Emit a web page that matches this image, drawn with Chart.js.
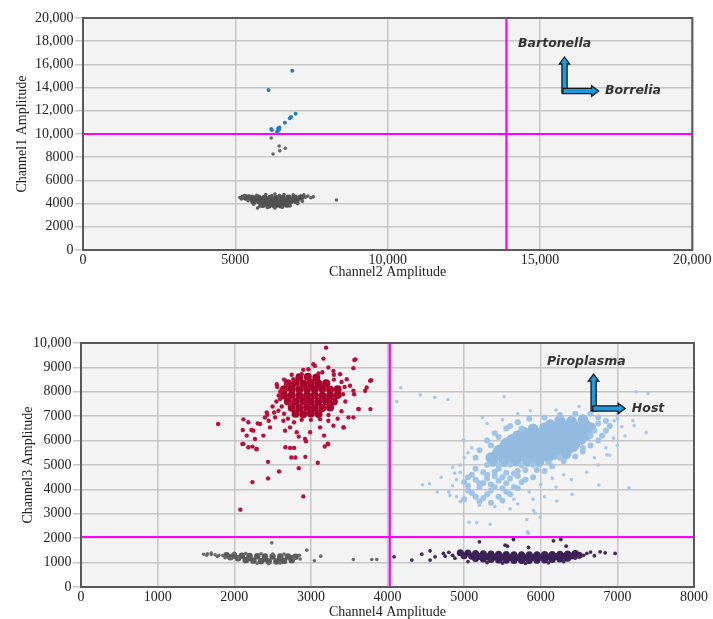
<!DOCTYPE html>
<html>
<head>
<meta charset="utf-8">
<script src="https://cdn.jsdelivr.net/npm/chart.js@4.4.1/dist/chart.umd.min.js"></script>
<style>
  html, body { margin: 0; padding: 0; background: #fff; overflow: hidden; }
  #top { position: absolute; left: 0; top: 0; }
  #bottom { position: absolute; left: 0; top: 300px; }
</style>
</head>
<body>
<canvas id="top" width="713" height="300"></canvas>
<canvas id="bottom" width="713" height="330"></canvas>
<script>
// --- tick values ---
const topXTicks = [0, 5000, 10000, 15000, 20000];
const topYTicks = [0, 2000, 4000, 6000, 8000, 10000, 12000, 14000, 16000, 18000, 20000];
const botXTicks = [0, 1000, 2000, 3000, 4000, 5000, 6000, 7000, 8000];
const botYTicks = [0, 1000, 2000, 3000, 4000, 5000, 6000, 7000, 8000, 9000, 10000];

// --- threshold lines ---
const topCutX = 13900, topCutY = 10000;
const botCutX = 4030, botCutY = 2050;

// --- top plot (Channel2 x, Channel1 y) ---
const bartonellaPos = [[6870,15450],[6090,13800],[6980,11750],[6830,11470],[6790,11350],[6630,10970],
  [6180,10430],[6410,10490],[6440,10400],[6400,10280],[6370,10200],[6450,10550],[6200,10350]];
const topStray = [[6180,9650],[6240,8280],[6440,8970],[6460,8560],[6640,8770],[8320,4310]];
const topNegCore = [[5350,4520],[5550,4480],[5750,4500],[5950,4460],[6150,4480],[6350,4450],[6550,4480],
  [6750,4500],[6950,4490],[7150,4520],[5600,4200],[5800,4180],[6000,4150],[6200,4120],[6400,4130],
  [6600,4160],[6800,4200],[7000,4230],[5900,3900],[6100,3850],[6300,3830],[6500,3860],[6700,3920]];
const topNegEdge = [[5150,4520],[5230,4620],[5200,4400],[5300,4700],[5450,4680],[7300,4550],[7380,4650],
  [7480,4500],[7250,4750],[7560,4580],[6000,4780],[6300,4830],[6600,4780],[6900,4760],[5700,4720],
  [5600,3950],[5730,3620],[5800,3780],[6050,3660],[6300,3620],[6550,3680],[6800,3800],[7050,4000],
  [5420,4250],[7200,4200],[6200,4700],[6450,4700]];

// --- bottom plot (Channel4 x, Channel3 y) ---
const piroCore = [[2850,8600],[2960,8620],[3070,8580],
  [2700,8350],[2800,8370],[2900,8340],[3000,8360],[3100,8330],[3200,8350],
  [2650,8100],[2750,8120],[2850,8090],[2950,8110],[3050,8100],[3150,8120],[3250,8090],[3350,8100],
  [2650,7850],[2750,7860],[2850,7840],[2950,7850],[3050,7860],[3150,7840],[3250,7850],[3350,7870],
  [2700,7600],[2800,7590],[2900,7610],[3000,7600],[3100,7590],[3200,7610],[3300,7600],
  [2750,7350],[2850,7340],[2950,7360],[3050,7350],[3150,7340],[3250,7360],
  [2800,7100],[2900,7080],[3000,7110],[3100,7090]];
const piroEdge = [[2555,8313],[2620,8109],[2685,8313],[2770,8517],[2880,8721],[2967,8925],[3054,9061],
  [3228,8993],[3294,8857],[3381,8721],[3468,8517],[3511,8245],[3555,8041],[3620,7293],[3555,6953],
  [3490,6953],[3425,6544],[3294,6612],[3228,6816],[3120,6544],[2990,6340],[2924,6068],[2815,6340],
  [2728,6544],[2663,6408],[2641,6816],[2533,6953],[2576,7225],[2424,7157],[2337,6680],[2250,6408],
  [2163,6204],[2119,5864],[2184,5728],[2293,5660],[2271,6068],[2380,6204],[2467,6544],[2598,7701],
  [2728,7497],[2500,7400],[2550,7600],[2600,8000],[3400,8400],[3450,7600],[3400,7200],[3350,6900],
  [2650,7100],[3300,8700],[2750,8700],[2900,8900],[3150,8800],
  [2580,7850],[2560,8200],[2620,7400],[2700,6900],[2780,6750],[2880,6850],[3000,6850],[3120,6880],
  [3230,7050],[3420,7900],[3440,8200],[3300,8500],[3100,8750],[2650,8500],[2520,7150],[2400,6950],
  [1790,6680],[2080,3170],[2237,4300],[2441,5130],[2441,4450],[2585,4735],[2842,4870],[2902,3714],
  [2928,5333],[3090,5090],[2745,5306],[2798,5306],[3198,9810],[3164,9360],[3033,9130],[3568,9306],
  [3786,8476],[3777,7290],[3625,7290],[3581,9330],[3555,8970],[3564,7900],[3429,6540],[3220,5870],
  [3181,5760],[2119,6870],[2184,6750],[2111,6436],[2224,6436],[2307,6707],[2432,7061],[2450,6816],
  [2106,5864],[2237,5755],[2289,5646],[2668,5728],[2729,5700],[2781,5700],[2842,6163],[2937,5973],
  [3172,6204],[3225,5850],[3773,8449],[3729,8177],[3708,8041]];
const dualCore = [[6250,6820],[6400,6780],[6550,6850],
  [6125,6650],[6275,6660],[6425,6640],[6575,6670],
  [5900,6480],[6050,6520],[6200,6490],[6350,6510],[6500,6470],[6650,6530],
  [5775,6350],[5925,6340],[6075,6360],[6225,6350],[6375,6330],[6525,6360],
  [5700,6200],[5850,6180],[6000,6220],[6150,6190],[6300,6210],[6450,6180],[6600,6230],
  [5625,6050],[5775,6060],[5925,6040],[6075,6050],[6225,6060],[6375,6040],[6525,6050],
  [5550,5900],[5700,5920],[5850,5880],[6000,5910],[6150,5890],[6300,5920],[6450,5880],
  [5525,5750],[5675,5740],[5825,5760],[5975,5750],[6125,5740],[6275,5760],[6425,5750],
  [5450,5600],[5600,5580],[5750,5620],[5900,5590],[6050,5610],[6200,5580],[6350,5600],
  [5425,5450],[5575,5460],[5725,5440],[5875,5450],[6025,5460],[6175,5440],[6325,5450],
  [5350,5300],[5500,5320],[5650,5280],[5800,5310],[5950,5290],[6100,5320],
  [5375,5150],[5525,5140],[5675,5160],[5825,5150],[5975,5140]];
const dualMid = [[5300,5000],[5450,4980],[5600,5020],[5750,4990],[5900,5010],[5250,4700],[5400,4720],
  [5550,4680],[5700,4750],[5150,4400],[5300,4450],[5450,4350],[5600,4450],[5050,4150],[5200,4100],
  [5350,4200],[5500,4050],[5100,3850],[5300,3800],[5450,3700],[5000,3600],[5200,3500],
  [5300,6000],[5400,6300],[5550,6500],[5700,6750],[5850,6900],[6050,6950],[6250,7050],[6450,7100],
  [6650,7100],[6750,6950],[6850,6800],[6900,6600],[6850,6400],[6800,6200],[6750,6000],[6650,5800],
  [6550,5550],[6450,5350],[6300,5150],[6150,4950],[6050,4750],[5900,4500],[5750,4300],[5650,4100],
  [5550,3900],[5150,5300],[5200,5600],[5350,5800],
  [5100,4600],[5250,4250],[5400,4550],[5550,4250],[5700,4550],[5000,4300],[5150,3700],[5350,3950],
  [5600,3800],[5800,4800],[5950,4800],[6100,5100],[6250,5300],[6550,5700],[6650,6200],[6700,6400],
  [6750,6700],[5450,6150],[5600,6600],[5750,6500],
  [5050,3950],[5200,4250],[5300,4600],[5450,4850],[5150,4850],[5050,4500],[5250,3650],[5400,4100],
  [5500,4500],[5650,4650],[5700,4050],[5800,4400],[5350,3450],[5500,3550]];
const dualEdge = [[4800,3900],[4700,4500],[4850,4900],[5000,5300],[5100,5700],[5000,6000],[5300,6700],
  [5700,7100],[6500,7400],[7000,7100],[7100,6200],[7000,5800],[6900,5400],[6750,5000],[6600,4700],
  [6400,4400],[6200,4100],[6050,3700],[5700,3400],[5400,3300],[5200,3350],[4950,3500],[4650,3900],
  [4900,4400],[4950,4700],[5650,3600],[5850,3900],[6300,4600],[6700,5300],[6850,5700],[6950,6100],
  [7000,6900],[6800,7250],[6200,7250],[5500,6850],
  [4900,3700],[4850,4150],[4950,5000],[5050,5500],[5600,3200],[5900,3600],[6000,4200],[6150,4450],
  [4173,8163],[4121,7605],[4426,7878],[4617,7769],[4787,7687],[5522,7796],[5866,7224],[5239,6952],
  [4991,6027],[4878,4667],[4456,4191],[4548,4232],[4817,3755],[5065,2653],[5165,2640],[5339,2571],
  [5818,2762],[5992,2871],[5905,3143],[5927,3033],[5831,2245],[5840,2190],[5827,2258],[7245,8000],
  [7402,7932],[7202,6816],[7219,6612],[7376,6327],[7150,4068],[6758,4177],[6863,5415],[7059,6571],
  [6958,6816],[6410,3796],[6210,3524]];
const hostCore = [[4950,1400],[5050,1390],[5150,1370],[5250,1360],[5350,1350],[5450,1340],[5550,1330],
  [5650,1320],[5750,1320],[5850,1320],[5950,1320],[6050,1330],[6150,1330],[6250,1340],[6350,1350],
  [6450,1370],
  [5000,1280],[5100,1260],[5200,1250],[5300,1240],[5400,1230],[5500,1220],[5600,1210],[5700,1200],
  [5800,1200],[5900,1210],[6000,1220],[6100,1230],[6200,1245],[6300,1260],[6400,1275],[6500,1300],
  [5150,1170],[5250,1150],[5350,1130],[5450,1110],[5550,1100],[5650,1090],[5750,1090],
  [5850,1090],[5950,1100],[6050,1110],[6150,1130],[6250,1150],[6350,1180]];
const hostEdge = [[4086,1238],[4317,1102],[4447,1347],[4556,1483],[4556,1102],[4621,1238],[4730,1374],
  [4752,1265],[4800,1420],[4850,1300],[4880,1180],[5000,1250],[5050,1040],[5300,1000],[5500,980],
  [5800,970],[6100,990],[6300,1040],[6500,1250],[6558,1300],[6601,1374],[6650,1430],[6700,1280],
  [6775,1442],[6841,1401],[6971,1374],[6450,1180],
  [5200,1850],[5535,1714],[5565,1673],[5644,1946],[5840,1619],[6166,1891],[6262,1946],[6332,1673]];
const negCore = [[1900,1300],[2000,1290],[2100,1280],[2200,1270],[2300,1260],[2400,1250],[2500,1250],
  [2600,1250],[2700,1250],[2800,1240],[1950,1220],[2050,1180],[2200,1180],[2400,1160],[2600,1160],
  [2750,1180],[2150,1100],[2250,1080],[2350,1060],[2450,1050],[2550,1050],[2650,1070],[2750,1100]];
const negEdge = [[1600,1340],[1650,1360],[1700,1330],[1750,1320],[1800,1300],[1850,1290],[1700,1390],
  [1780,1250],[1640,1300],[1880,1200],[1950,1180],[2000,1380],[2150,1370],[2350,1360],[2500,1350],
  [2650,1350],[2780,1180],[2850,1300],[2860,1150],[2300,970],[2450,960],[2600,980],[2050,1200],
  [2490,1810],[2946,1510],[3046,1075],[3129,1265],[3555,1129],[3795,1129],[3860,1129]];

// --- annotation anchors (data coords) ---
const topNotes = {
  texts: [['Bartonella', 14281, 17760], ['Borrelia', 17134, 13733]],
  arrows: [[15807, 13534, 15807, 16640], [15752, 13707, 16928, 13707]]
};
const botNotes = {
  texts: [['Piroplasma', 6080, 9237], ['Host', 7189, 7318]],
  arrows: [[6690, 7224, 6690, 8722], [6680, 7318, 7102, 7318]]
};

const serif = { family: 'Liberation Serif', size: 14 };
const pts = arr => arr.map(([x, y]) => ({ x, y }));
const fmt = v => v >= 10000 ? v.toLocaleString('en-US') : String(v);

function dots(data, color, r) {
  return { data: pts(data), backgroundColor: color, borderColor: color, borderWidth: 0,
           pointBackgroundColor: color, pointBorderColor: color, pointBorderWidth: 0,
           pointRadius: r, pointHoverRadius: r, showLine: false, order: 1 };
}
function cutLine(data) {
  return { data: pts(data), showLine: true, borderColor: '#ff00ff', borderWidth: 2.2,
           pointRadius: 0, order: 5 };
}

function arrow(ctx, x0, y0, x1, y1) {
  const len = Math.hypot(x1 - x0, y1 - y0), ang = Math.atan2(y1 - y0, x1 - x0);
  const sw = 2.6, hw = 5.2, hl = 7;
  ctx.save();
  ctx.translate(x0, y0);
  ctx.rotate(ang);
  ctx.beginPath();
  ctx.moveTo(0, -sw); ctx.lineTo(len - hl, -sw); ctx.lineTo(len - hl, -hw); ctx.lineTo(len, 0);
  ctx.lineTo(len - hl, hw); ctx.lineTo(len - hl, sw); ctx.lineTo(0, sw); ctx.closePath();
  ctx.fillStyle = '#1b9ae0';
  ctx.fill();
  ctx.lineWidth = 1.3;
  ctx.strokeStyle = '#1a1a1a';
  ctx.stroke();
  ctx.restore();
}

// plot background, frame and the labelled arrows
const frame = {
  id: 'frame',
  beforeDraw(chart) {
    const { ctx, chartArea: a } = chart;
    ctx.save();
    ctx.fillStyle = '#f3f3f3';
    ctx.fillRect(a.left, a.top, a.width, a.height);
    ctx.restore();
  },
  afterDraw(chart) {
    const { ctx, chartArea: a, scales: { x, y } } = chart;
    ctx.save();
    ctx.strokeStyle = '#5a5a5a';
    ctx.lineWidth = 2;
    ctx.strokeRect(a.left, a.top, a.width, a.height);
    const notes = chart.options.plugins.frame.notes;
    notes.arrows.forEach(([x0, y0, x1, y1]) => arrow(ctx,
      x.getPixelForValue(x0), y.getPixelForValue(y0), x.getPixelForValue(x1), y.getPixelForValue(y1)));
    ctx.fillStyle = '#333';
    ctx.font = 'italic bold 12.5px "DejaVu Sans"';
    ctx.textAlign = 'left';
    ctx.textBaseline = 'middle';
    notes.texts.forEach(([t, tx, ty]) => ctx.fillText(t, x.getPixelForValue(tx), y.getPixelForValue(ty)));
    ctx.restore();
  }
};

function axes(xTicks, yTicks, xTitle, yTitle, yWidth, xHeight, yTitlePad, xTitlePad) {
  return {
    x: {
      type: 'linear', min: xTicks[0], max: xTicks[xTicks.length - 1],
      afterBuildTicks: s => { s.ticks = xTicks.map(value => ({ value })); },
      afterFit: s => { s.height = xHeight; },
      grid: { color: '#c6c6c6', lineWidth: 1.5, drawTicks: false },
      border: { display: false },
      ticks: { font: serif, color: '#222', padding: 1.5, callback: fmt, maxRotation: 0, autoSkip: false },
      title: { display: true, text: xTitle, font: serif, color: '#222', padding: { top: 0, bottom: xTitlePad } }
    },
    y: {
      type: 'linear', min: yTicks[0], max: yTicks[yTicks.length - 1],
      afterBuildTicks: s => { s.ticks = yTicks.map(value => ({ value })); },
      afterFit: s => { s.width = yWidth; },
      grid: { color: '#c6c6c6', lineWidth: 1.5, tickLength: 8 },
      border: { display: false },
      ticks: { font: serif, color: '#222', padding: 1.5, callback: fmt, autoSkip: false },
      title: { display: true, text: yTitle, font: serif, color: '#222', padding: { top: yTitlePad, bottom: 0 } }
    }
  };
}

new Chart(document.getElementById('top'), {
  type: 'scatter',
  data: {
    datasets: [
      dots(bartonellaPos, '#2a7bbd', 2),
      dots(topStray, '#666666', 1.8),
      dots(topNegEdge, '#5c5c5c', 1.8),
      dots(topNegCore, '#505050', 3.3),
      cutLine([[topCutX, topYTicks[0]], [topCutX, topYTicks[topYTicks.length - 1]]]),
      cutLine([[topXTicks[0], topCutY], [topXTicks[topXTicks.length - 1], topCutY]])
    ]
  },
  options: {
    responsive: false, animation: false, devicePixelRatio: 1,
    layout: { padding: { left: 0, right: 19, top: 18, bottom: 0 } },
    plugins: { legend: { display: false }, tooltip: { enabled: false }, frame: { notes: topNotes } },
    scales: axes(topXTicks, topYTicks, 'Channel2 Amplitude', 'Channel1 Amplitude', 83, 50, 13.6, 19.6)
  },
  plugins: [frame]
});

new Chart(document.getElementById('bottom'), {
  type: 'scatter',
  data: {
    datasets: [
      dots(piroEdge, '#b8103a', 2.2),
      dots(piroCore, '#a8002c', 4),
      dots(dualEdge, '#a6c8ea', 1.8),
      dots(dualMid, '#a0c4e8', 3),
      dots(dualCore, '#93badf', 5.5),
      dots(hostEdge, '#45295f', 1.9),
      dots(hostCore, '#3b2155', 3.5),
      dots(negEdge, '#6a6a6a', 1.8),
      dots(negCore, '#5a5a5a', 3.2),
      cutLine([[botCutX, botYTicks[0]], [botCutX, botYTicks[botYTicks.length - 1]]]),
      cutLine([[botXTicks[0], botCutY], [botXTicks[botXTicks.length - 1], botCutY]])
    ]
  },
  options: {
    responsive: false, animation: false, devicePixelRatio: 1,
    layout: { padding: { left: 0, right: 19, top: 43, bottom: 0 } },
    plugins: { legend: { display: false }, tooltip: { enabled: false }, frame: { notes: botNotes } },
    scales: axes(botXTicks, botYTicks, 'Channel4 Amplitude', 'Channel3 Amplitude', 81, 43, 19.6, 8.9)
  },
  plugins: [frame]
});
</script>
</body>
</html>
